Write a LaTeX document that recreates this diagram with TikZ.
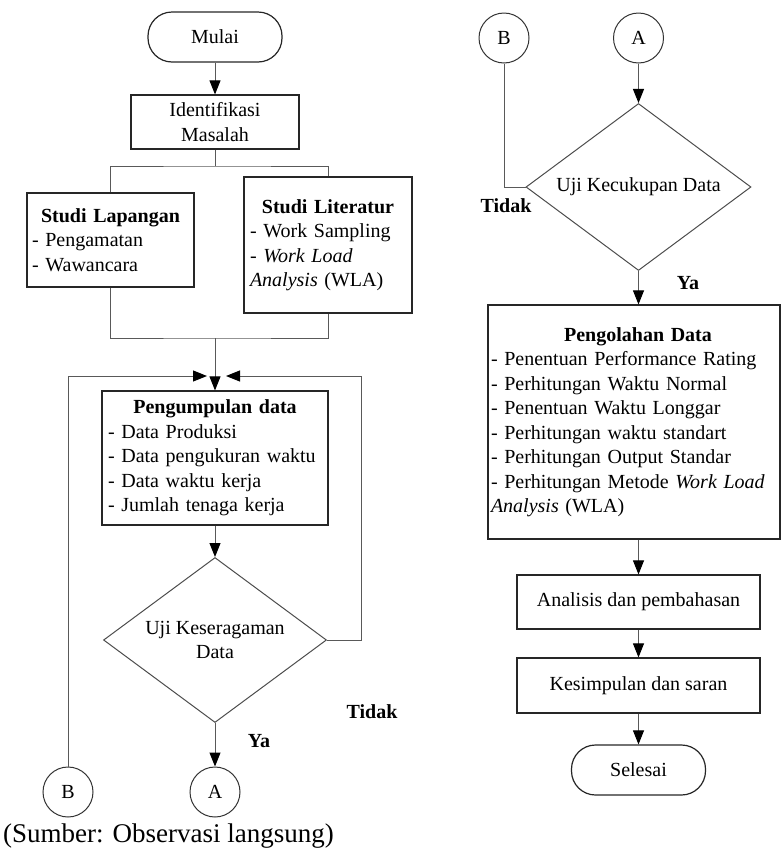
\documentclass[tikz,border=0pt]{standalone}
\usepackage{fontspec}
\setmainfont{Liberation Serif}
\usetikzlibrary{arrows.meta,shapes.geometric}
\begin{document}
\begin{tikzpicture}[x=1pt,y=-1pt,
  every node/.style={font=\fontsize{20}{24.5}\selectfont},
  box/.style={draw=black!85,line width=1.2pt,inner sep=0pt,align=center},
  listbox/.style={draw=black!85,line width=1.2pt,inner ysep=0pt,align=left},
  term/.style={box,rounded corners=24pt,minimum width=134,minimum height=50},
  conn/.style={draw=black!65,line width=1pt},
  arr/.style={conn,-{Triangle[length=14pt,width=11pt,color=black]}},
  dec/.style={draw=black!70,line width=1pt,shape=diamond,aspect=1.35,inner sep=0pt,align=center},
  conc/.style={draw=black!80,line width=1pt,circle,minimum size=50,inner sep=0pt},
  lbl/.style={font=\fontsize{20}{24.5}\selectfont\bfseries,inner sep=0pt}
]
\useasboundingbox (0,0) rectangle (781,860);

% left column
\node[term] (mulai) at (215,37) {Mulai};
\node[box,minimum width=168,minimum height=54] (ident) at (215,122) {Identifikasi\\Masalah};
\node[listbox,inner xsep=5pt,text width=157,minimum height=94] (lap) at (110.5,240)
  {\makebox[\linewidth]{\textbf{Studi Lapangan}}\\- Pengamatan\\- Wawancara};
\node[listbox,inner xsep=6pt,text width=156,minimum height=136] (lit) at (328,245)
  {\makebox[\linewidth]{\textbf{Studi Literatur}}\\- Work Sampling\\- \textit{Work Load}\\\textit{Analysis} (WLA)};
\node[listbox,inner xsep=6pt,text width=214,minimum height=134] (peng) at (215,458)
  {\makebox[\linewidth]{\textbf{Pengumpulan data}}\\- Data Produksi\\- Data pengukuran waktu\\- Data waktu kerja\\- Jumlah tenaga kerja};
\node[dec,minimum width=223,minimum height=165] (dia1) at (215,640) {Uji Keseragaman\\Data};
\node[conc] (A1) at (215,792) {A};
\node[conc] (B1) at (68,792) {B};
\node[lbl] (t1) at (372,712) {Tidak};
\node[lbl] (y1) at (259,741) {Ya};

% right column
\node[conc] (B2) at (504,38) {B};
\node[conc] (A2) at (638.5,38) {A};
\node[dec,minimum width=225,minimum height=167] (dia2) at (638.5,187) {Uji Kecukupan Data};
\node[lbl] (t2) at (506,206) {Tidak};
\node[lbl] (y2) at (688,283) {Ya};
\node[listbox,inner xsep=3pt,text width=286,minimum height=234] (olah) at (634,422)
  {\makebox[\linewidth]{\hspace{8pt}\textbf{Pengolahan Data}}\\- Penentuan Performance Rating\\- Perhitungan Waktu Normal\\- Penentuan Waktu Longgar\\- Perhitungan waktu standart\\- Perhitungan Output Standar\\- Perhitungan Metode \textit{Work Load}\\\textit{Analysis} (WLA)};
\node[box,minimum width=243,minimum height=54] (anal) at (638.5,602) {Analisis dan pembahasan};
\node[box,minimum width=243,minimum height=55] (kes) at (638.5,685.5) {Kesimpulan dan saran};
\node[term] (sel) at (638.5,770) {Selesai};

\node[anchor=west,font=\fontsize{27}{32}\selectfont,inner sep=0pt] (cap) at (3,836) {(Sumber: Observasi langsung)};

% helper coordinates
\coordinate (split) at (215,166);
\coordinate (merge) at (215,338);
\coordinate (inL) at (207,376);
\coordinate (inR) at (226,376);
\coordinate (rt) at (361,376);

% connectors
\draw[arr] (mulai) -- (ident);
\draw[conn] (ident) -- (split);
\draw[conn] (lap.north) |- (split) -| (lit.north);
\draw[conn] (lap.south) |- (merge) -| (lit.south);
\draw[arr] (merge) -- (peng.north);
\draw[arr] (B1.north) |- (inL);
\draw[arr] (dia1.east) -| (rt) -- (inR);
\draw[arr] (peng) -- (dia1);
\draw[arr] (dia1) -- (A1);

\draw[conn] (B2.south) |- (dia2.west);
\draw[arr] (A2) -- (dia2);
\draw[arr] (dia2.south) -- (dia2.south |- olah.north);
\draw[arr] (anal.north |- olah.south) -- (anal.north);
\draw[arr] (anal) -- (kes);
\draw[arr] (kes) -- (sel);
\end{tikzpicture}
\end{document}
